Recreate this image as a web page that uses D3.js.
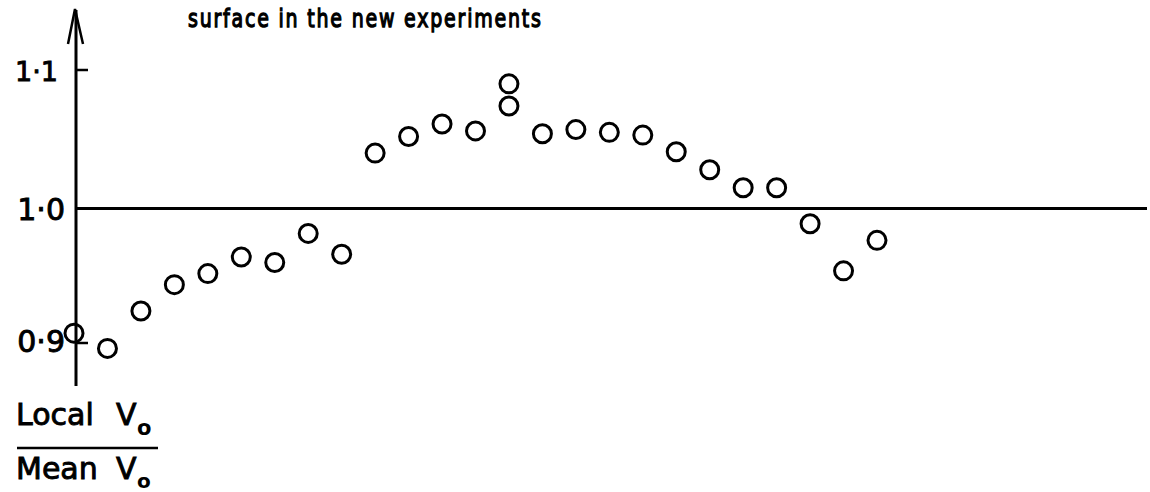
<!DOCTYPE html>
<html lang="en">
<head>
  <meta charset="UTF-8">
  <title>Local Vo / Mean Vo</title>
  <style>
    * {box-sizing: border-box;}
    html, body {
      margin: 0;
      padding: 0;
      background: #fff;
    }
    text {
      font-family: "DejaVu Sans", sans-serif;
      fill: #000;
    }
    .lettering {
      stroke: #000;
      stroke-width: 0.9;
    }
  </style>
</head>
<body>
  <svg id="chart"></svg>

  <script src="https://d3js.org/d3.v7.min.js"></script>
  <script>
    // stations along the surface (14th station has two readings)
    const stations = [0, 1, 2, 3, 4, 5, 6, 7, 8, 9, 10, 11, 12, 13, 13, 14, 15, 16, 17, 18, 19, 20, 21, 22, 23, 24]
    const ratios = [0.910, 0.899, 0.926, 0.945, 0.953, 0.965, 0.961, 0.982, 0.967,
      1.040, 1.052, 1.061, 1.056, 1.090, 1.074, 1.054, 1.057, 1.055, 1.053, 1.041,
      1.028, 1.015, 1.015, 0.989, 0.955, 0.977]
    const yTicks = [0.9, 1.0, 1.1]
    const yTickLabels = ['0·9', '1·0', '1·1']
    const title = 'surface in the new experiments'

    const width = 1150
    const height = 492

    const x = d3.scaleLinear().domain([0, 24]).range([74, 877])
    const y = d3.scaleLinear().domain([0.9, 1.1]).range([347, 70])
    const axisX = 76

    const svg = d3.select('#chart')
      .attr('width', width)
      .attr('height', height)

    svg.append('rect')
      .attr('width', width).attr('height', height)
      .attr('fill', '#fff')

    // title (continuation of the caption), stretched like the hand lettering
    svg.append('text')
      .attr('class', 'lettering')
      .attr('transform', 'translate(188,27) scale(1,1.35)')
      .attr('font-size', 19)
      .style('stroke-width', 1)
      .attr('textLength', 353)
      .attr('lengthAdjust', 'spacing')
      .text(title)

    // reference line at 1.0
    svg.append('line')
      .attr('x1', axisX).attr('x2', 1147)
      .attr('y1', y(1.0)).attr('y2', y(1.0))
      .attr('stroke', '#000').attr('stroke-width', 3)

    // vertical axis with arrow
    svg.append('line')
      .attr('x1', axisX).attr('x2', axisX)
      .attr('y1', 10).attr('y2', 386)
      .attr('stroke', '#000').attr('stroke-width', 3)
    svg.append('path')
      .attr('d', `M${axisX - 8},44 L${axisX - 1},9 L${axisX + 7},44`)
      .attr('fill', 'none')
      .attr('stroke', '#000').attr('stroke-width', 2.5)

    // ticks (1.0 is the reference line itself)
    svg.selectAll('line.tick')
      .data(yTicks.filter(d => d !== 1.0))
      .enter().append('line')
      .attr('class', 'tick')
      .attr('x1', axisX).attr('x2', axisX + 12)
      .attr('y1', d => y(d) - (d < 1 ? 4 : 0))
      .attr('y2', d => y(d) - (d < 1 ? 4 : 0))
      .attr('stroke', '#000').attr('stroke-width', 2.5)

    svg.selectAll('text.ylab')
      .data(yTicks)
      .enter().append('text')
      .attr('class', 'ylab lettering')
      .attr('x', (d, i) => i === 2 ? 58 : 65)
      .attr('y', d => y(d) + (d < 1 ? 5 : 11))
      .attr('text-anchor', 'end')
      .attr('font-size', (d, i) => i === 2 ? 27 : 30)
      .text((d, i) => yTickLabels[i])

    // data points
    svg.selectAll('circle.pt')
      .data(stations.map((s, i) => [s, ratios[i]]))
      .enter().append('circle')
      .attr('class', 'pt')
      .attr('cx', d => x(d[0]))
      .attr('cy', d => y(d[1]))
      .attr('r', 9)
      .attr('fill', 'none')
      .attr('stroke', '#000')
      .attr('stroke-width', 3)

    // axis label: Local Vo / Mean Vo
    const lab = svg.append('g')
    lab.append('text').attr('class', 'lettering').attr('x', 16).attr('y', 425).attr('font-size', 30).text('Local')
    lab.append('text').attr('class', 'lettering').attr('x', 116).attr('y', 425).attr('font-size', 30).text('V')
    lab.append('text').attr('x', 137).attr('y', 435).attr('font-size', 21).attr('font-weight', 'bold').text('o')
    lab.append('line')
      .attr('x1', 17).attr('x2', 158)
      .attr('y1', 448).attr('y2', 448)
      .attr('stroke', '#000').attr('stroke-width', 2.5)
    lab.append('text').attr('class', 'lettering').attr('x', 16).attr('y', 479).attr('font-size', 30).text('Mean')
    lab.append('text').attr('class', 'lettering').attr('x', 116).attr('y', 479).attr('font-size', 30).text('V')
    lab.append('text').attr('x', 137).attr('y', 488).attr('font-size', 20).attr('font-weight', 'bold').text('o')
  </script>
</body>
</html>
